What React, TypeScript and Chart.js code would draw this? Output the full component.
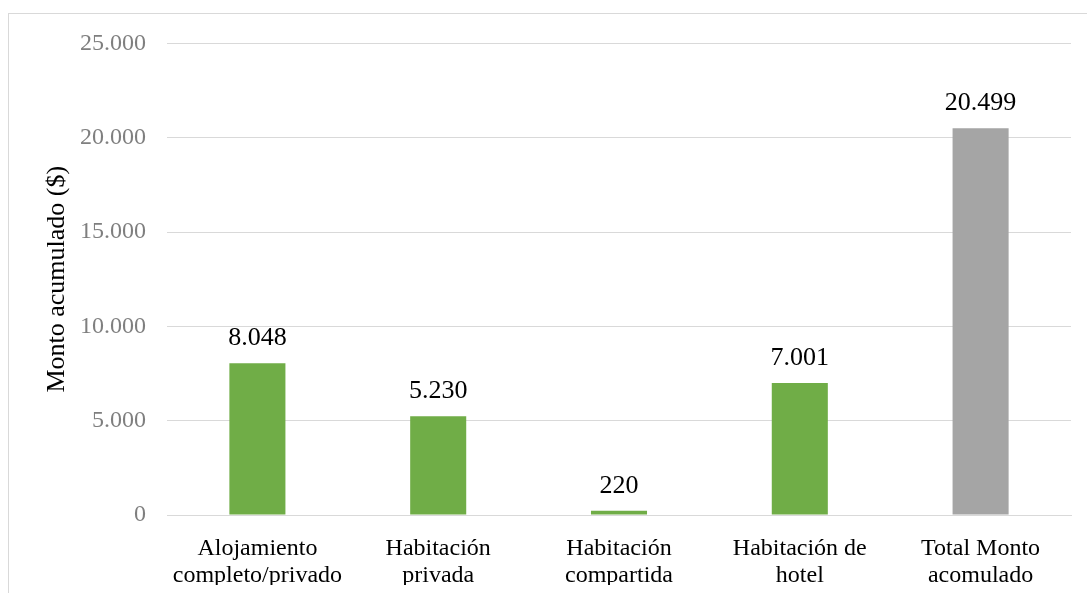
import React, { useEffect, useRef } from "react";
import { Chart, registerables } from "chart.js";

Chart.register(...registerables);

const categories: string[][] = [
  ["Alojamiento", "completo/privado"],
  ["Habitación", "privada"],
  ["Habitación", "compartida"],
  ["Habitación de", "hotel"],
  ["Total Monto", "acomulado"],
];
const montos: number[] = [8048, 5230, 220, 7001, 20499];
const barColors: string[] = ["#70AD47", "#70AD47", "#70AD47", "#70AD47", "#A5A5A5"];
const yTitle = "Monto acumulado ($)";

const SERIF = '"Liberation Serif", "Times New Roman", serif';

const fmt = (n: number) => Math.round(n).toString().replace(/\B(?=(\d{3})+(?!\d))/g, ".");

const dataLabels = {
  id: "dataLabels",
  afterDatasetsDraw(chart: any) {
    const ctx = chart.ctx;
    const meta = chart.getDatasetMeta(0);
    const ds = chart.data.datasets[0];
    ctx.save();
    ctx.font = `26px ${SERIF}`;
    ctx.fillStyle = "#000000";
    ctx.textAlign = "center";
    ctx.textBaseline = "alphabetic";
    meta.data.forEach((el: any, i: number) => {
      ctx.fillText(fmt(ds.data[i] as number), el.x, el.y - 18);
    });
    ctx.restore();
  },
};

export default function App() {
  const ref = useRef<HTMLCanvasElement | null>(null);
  useEffect(() => {
    if (!ref.current) return;
    const chart = new Chart(ref.current, {
      type: "bar",
      data: {
        labels: categories,
        datasets: [
          {
            data: montos,
            backgroundColor: barColors,
            barPercentage: 0.31,
            categoryPercentage: 1,
          },
        ],
      },
      options: {
        animation: false,
        responsive: true,
        maintainAspectRatio: false,
        layout: { padding: { left: 0, right: 8, top: 34, bottom: 0 } },
        plugins: {
          legend: { display: false },
          tooltip: { enabled: false },
          title: { display: false },
        },
        scales: {
          x: {
            afterFit(scale: any) {
              scale.height = 70;
            },
            grid: { display: false },
            border: { display: true, color: "#d9d9d9", width: 1 },
            ticks: {
              color: "#000000",
              padding: 13,
              maxRotation: 0,
              autoSkip: false,
              font: { family: SERIF, size: 24, lineHeight: 1.1 },
            },
          },
          y: {
            min: 0,
            max: 25000,
            afterFit(scale: any) {
              scale.width = 159;
            },
            grid: { color: "#d9d9d9", lineWidth: 1, drawTicks: false },
            border: { display: false },
            ticks: {
              stepSize: 5000,
              color: "#7f7f7f",
              padding: 21,
              font: { family: SERIF, size: 24 },
              callback: (v: any) => fmt(Number(v)),
            },
            title: {
              display: true,
              text: yTitle,
              color: "#000000",
              font: { family: SERIF, size: 26, lineHeight: 1.2 },
              padding: { top: 34, bottom: 0 },
            },
          },
        },
      },
      plugins: [dataLabels],
    });
    return () => chart.destroy();
  }, []);

  return (
    <div
      style={{
        position: "fixed",
        left: 0,
        top: 0,
        width: 1087,
        height: 593,
        overflow: "hidden",
        background: "#ffffff",
      }}
    >
      <div
        style={{
          position: "absolute",
          left: 8,
          top: 13,
          width: 1200,
          height: 700,
          border: "1px solid #d9d9d9",
          boxSizing: "border-box",
        }}
      />
      <div style={{ position: "absolute", left: 8, top: 8, width: 1071, height: 577 }}>
        <canvas ref={ref} />
      </div>
    </div>
  );
}
